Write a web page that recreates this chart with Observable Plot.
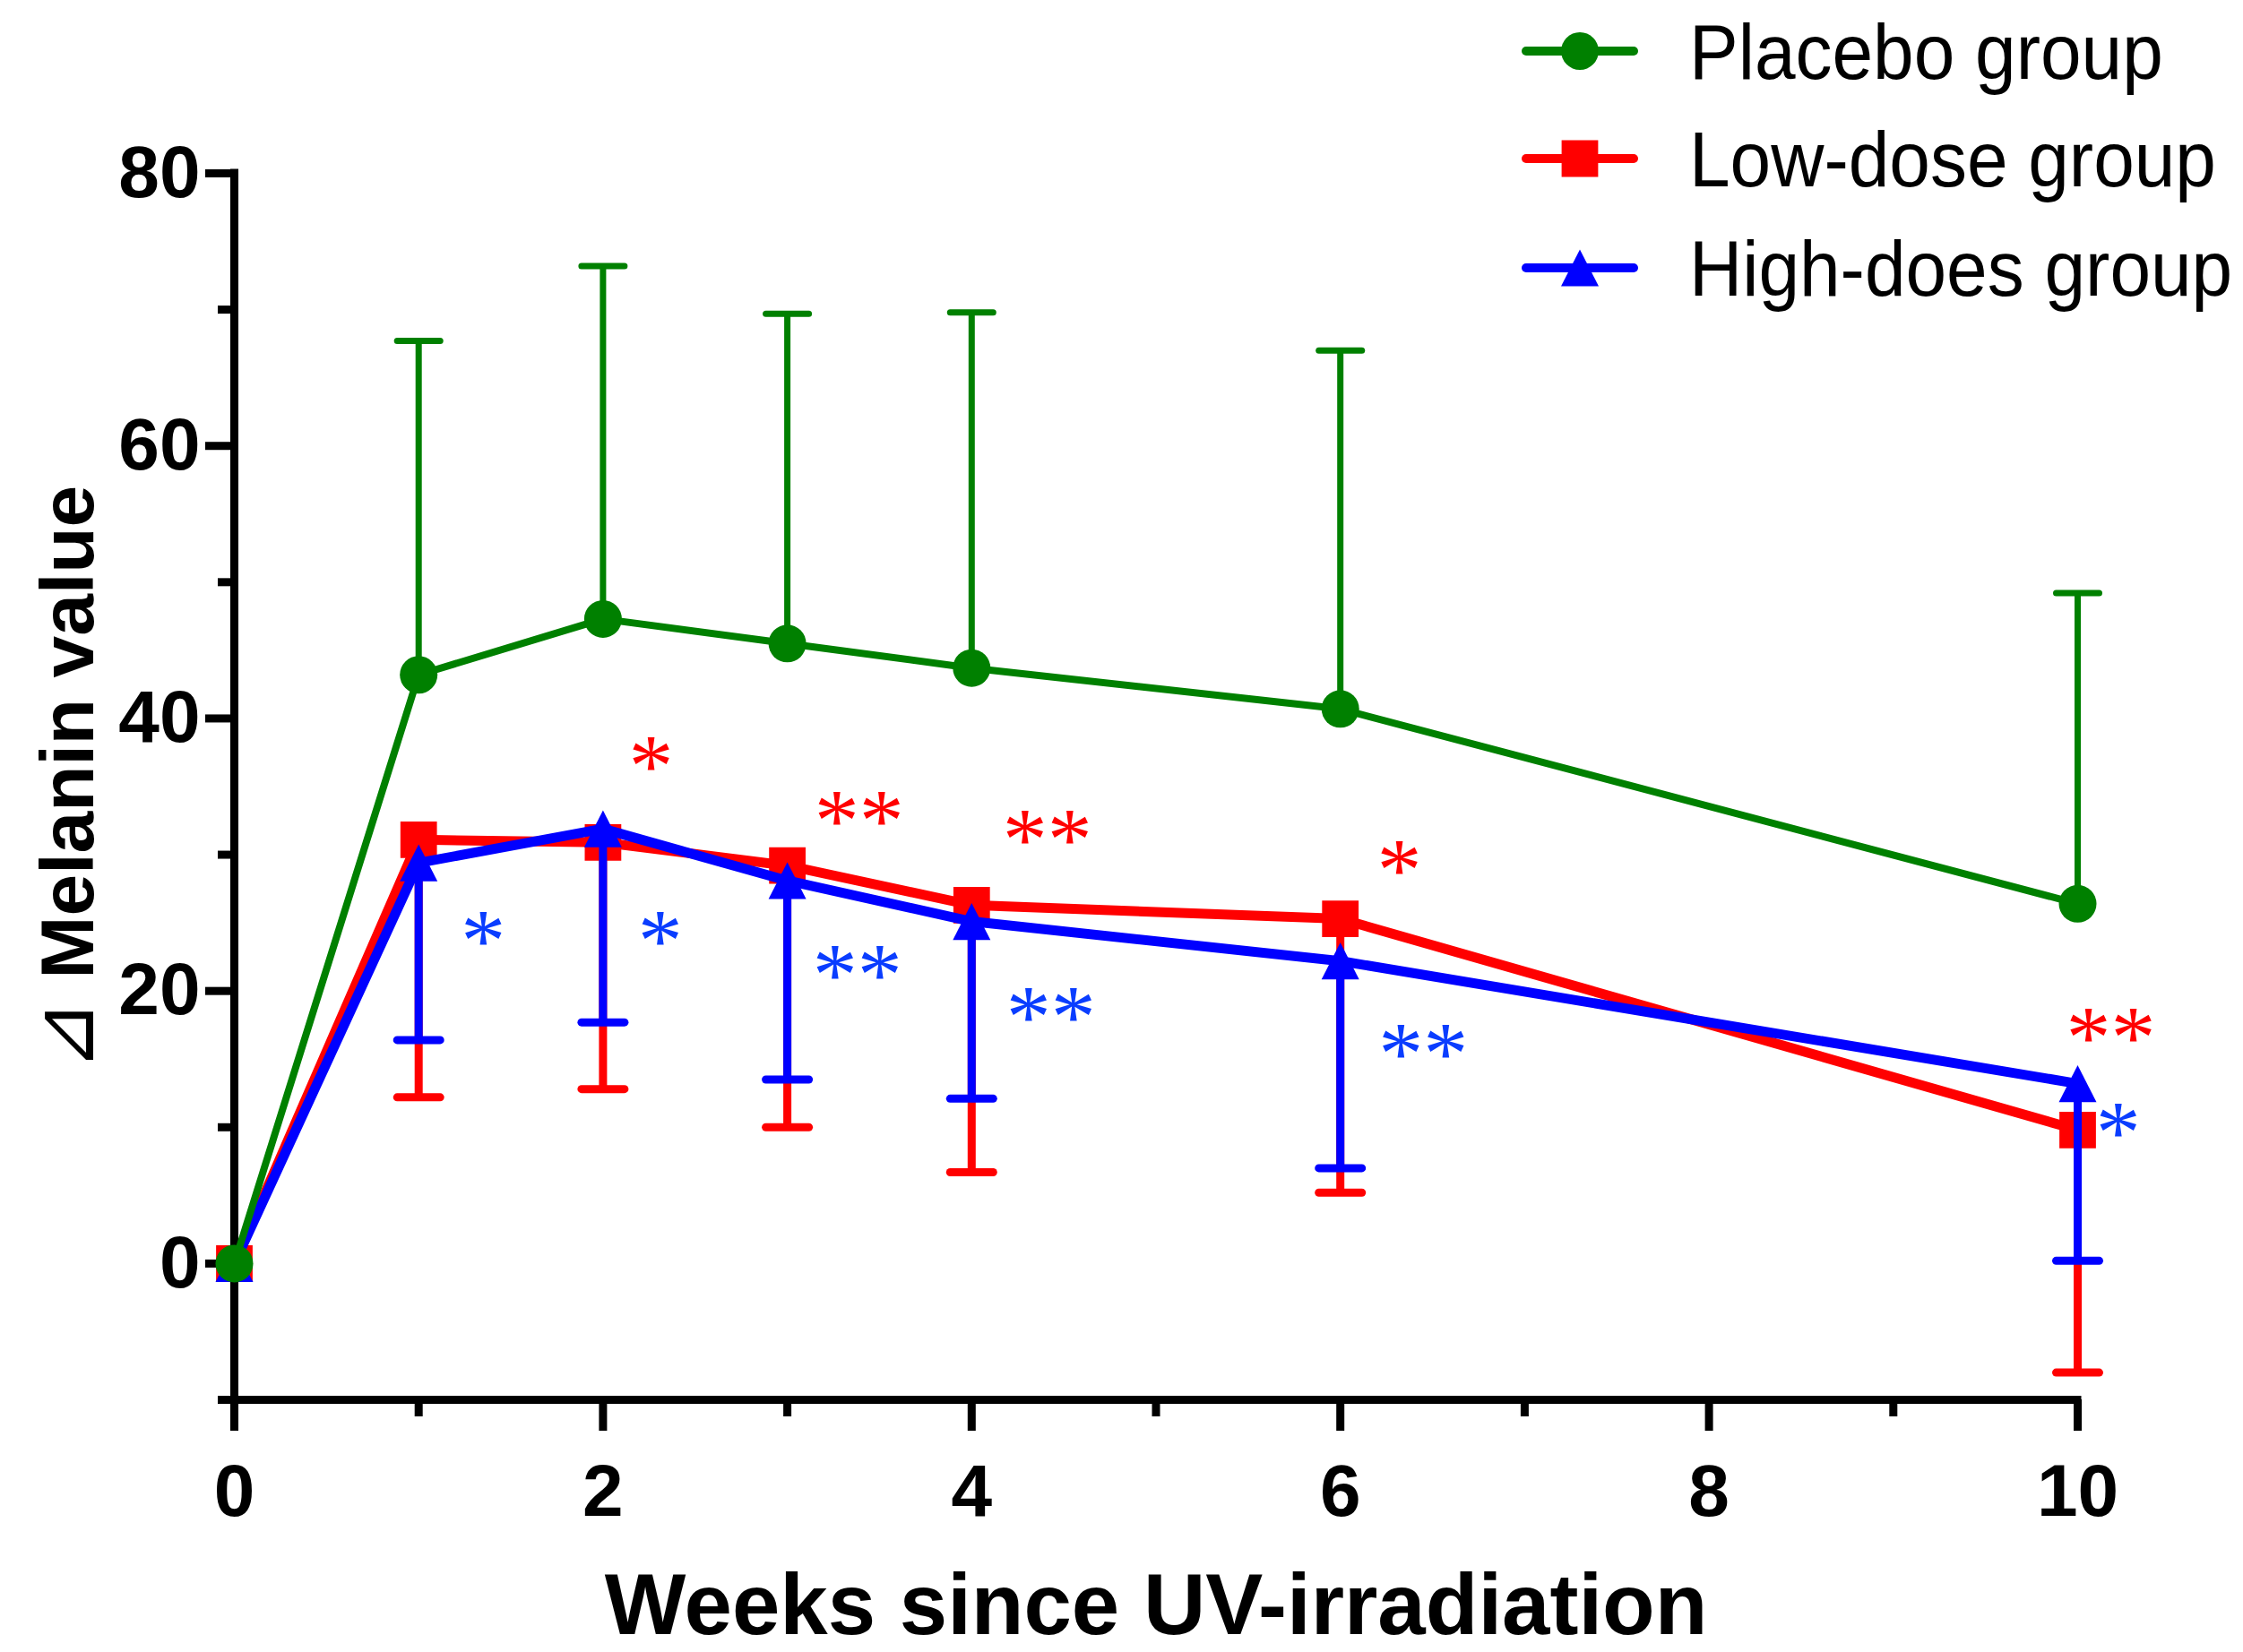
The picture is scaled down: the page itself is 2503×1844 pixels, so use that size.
<!DOCTYPE html>
<html><head><meta charset="utf-8">
<script src="https://cdn.jsdelivr.net/npm/d3@7"></script>
<script src="https://cdn.jsdelivr.net/npm/@observablehq/plot@0.6"></script>
<style>
html,body{margin:0;padding:0;background:#fff;}
#wrap{position:relative;width:2503px;height:1844px;overflow:hidden;background:#fff;}
#legend{position:absolute;left:0;top:0;}
</style></head><body>
<div id="wrap"><div id="chart"></div><svg id="legend" width="2503" height="360"></svg></div>
<script>
// ---- data ----
const weeks = [0, 1, 2, 3, 4, 6, 10];
const placeboMean  = [0, 43.2, 47.3, 45.5, 43.7, 40.7, 26.4];
const placeboUpper = [null, 67.7, 73.2, 69.7, 69.8, 67.0, 49.2];
const lowMean      = [0, 31.1, 30.9, 29.2, 26.3, 25.3, 9.8];
const lowLower     = [null, 12.2, 12.8, 10.0, 6.7, 5.2, -8.0];
const highMean     = [0, 29.4, 31.9, 28.1, 25.1, 22.2, 13.2];
const highLower    = [null, 16.4, 17.7, 13.5, 12.1, 7.0, 0.2];

const sigLowX    = [2.26, 3.39, 4.41, 6.32, 10.18];
const sigLowY    = [37.3, 33.3, 31.9, 29.7, 17.4];
const sigLowText = ["*", "**", "**", "*", "**"];
const sigHighX    = [1.35, 2.31, 3.38, 4.43, 6.45, 10.22];
const sigHighY    = [24.5, 24.5, 22.0, 18.9, 16.2, 10.4];
const sigHighText = ["*", "*", "**", "**", "**", "*"];

const xMajor = [0, 2, 4, 6, 8, 10];
const xMinor = [1, 3, 5, 7, 9];
const yMajor = [0, 20, 40, 60, 80];
const yMinor = [-10, 10, 30, 50, 70];
const xDomain = [0, 10];
const yDomain = [-10, 80];

const seriesNames = ["Placebo group", "Low-dose group", "High-does group"];
const colors = {green: "#008000", red: "#ff0000", blue: "#0000ff", sigRed: "#ff0000", sigBlue: "#0a3dff"};

// ---- tables ----
const rows = (mean, err) => weeks.map((w, i) => ({week: w, mean: mean[i], err: err[i]}));
const placebo = rows(placeboMean, placeboUpper);
const low = rows(lowMean, lowLower);
const high = rows(highMean, highLower);
const sigLow = sigLowX.map((x, i) => ({x, y: sigLowY[i], t: sigLowText[i]}));
const sigHigh = sigHighX.map((x, i) => ({x, y: sigHighY[i], t: sigHighText[i]}));

// custom symbols: error-bar cap and a near-square triangle
const capSymbol = {draw(ctx, size) { const r = Math.sqrt(size / Math.PI); ctx.moveTo(-r, 0); ctx.lineTo(r, 0); }};
const triSymbol = {draw(ctx, size) { const r = Math.sqrt(size / Math.PI); const h = r * 0.98; ctx.moveTo(0, -h); ctx.lineTo(r, h); ctx.lineTo(-r, h); ctx.closePath(); }};

function seriesMarks(data, color, symbol, r, lineW, barW) {
  const withErr = data.filter(d => d.err != null);
  return [
    Plot.ruleX(withErr, {x: "week", y1: "mean", y2: "err", stroke: color, strokeWidth: barW}),
    Plot.dot(withErr, {x: "week", y: "err", symbol: capSymbol, r: 24, stroke: color, fill: "none", strokeWidth: barW, strokeLinecap: "round"}),
    Plot.line(data, {x: "week", y: "mean", stroke: color, strokeWidth: lineW, strokeLinejoin: "round"}),
    Plot.dot(data, {x: "week", y: "mean", symbol, r, fill: color, stroke: "none"})
  ];
}

const font = "Liberation Sans, Arial, Helvetica, sans-serif";
const sigFont = "Liberation Serif, Times New Roman, serif";

const chart = Plot.plot({
  width: 2503, height: 1844,
  marginLeft: 261, marginRight: 185, marginTop: 193, marginBottom: 282,
  style: {fontFamily: font, background: "#fff", overflow: "visible", color: "#000"},
  x: {domain: xDomain},
  y: {domain: yDomain},
  marks: [
    // axes
    Plot.axisY({ticks: yMinor, tickSize: 18, strokeWidth: 9, text: null, label: null}),
    Plot.axisY({ticks: yMajor, tickSize: 32, tickPadding: 6, strokeWidth: 9, fontSize: 82, fontWeight: "bold", label: null, tickFormat: d => String(d)}),
    Plot.axisX({ticks: xMinor, tickSize: 19, strokeWidth: 9, text: null, label: null}),
    Plot.axisX({ticks: xMajor, tickSize: 35, tickPadding: 36, strokeWidth: 9, fontSize: 82, fontWeight: "bold", label: null, tickFormat: d => String(d)}),
    Plot.ruleX([xDomain[0]], {y1: yDomain[0], y2: yDomain[1], strokeWidth: 9, strokeLinecap: "square"}),
    Plot.ruleY([yDomain[0]], {x1: xDomain[0], x2: xDomain[1], strokeWidth: 9, strokeLinecap: "square"}),
    // titles
    Plot.text(["Weeks since UV-irradiation"], {frameAnchor: "bottom", dy: 231, fontSize: 96, fontWeight: "bold", lineAnchor: "middle", fill: "#000"}),
    Plot.text(["\u22BF Melanin value"], {frameAnchor: "left", textAnchor: "middle", rotate: -90, dx: -184, dy: -9, fontSize: 84, fontWeight: "bold", lineAnchor: "middle", fill: "#000", className: "ytitle"}),
    // series (red, blue, then green on top)
    ...seriesMarks(low, colors.red, "square", 23, 11, 9),
    ...seriesMarks(high, colors.blue, triSymbol, 21, 11, 9),
    ...seriesMarks(placebo, colors.green, "circle", 21, 8, 7),
    // significance marks
    Plot.text(sigLow, {x: "x", y: "y", text: "t", fill: colors.sigRed, fontSize: 100, fontFamily: sigFont, lineAnchor: "middle", dy: 13}),
    Plot.text(sigHigh, {x: "x", y: "y", text: "t", fill: colors.sigBlue, fontSize: 100, fontFamily: sigFont, lineAnchor: "middle", dy: 13})
  ]
});
document.getElementById("chart").appendChild(chart);

// y title: thin outline right-triangle glyph
d3.select(chart).selectAll(".ytitle text").each(function () {
  const t = d3.select(this);
  t.text(null);
  t.append("tspan").attr("font-family", "DejaVu Sans").attr("font-weight", "normal").attr("font-size", 96).text("\u22BF");
  t.append("tspan").text(" Melanin value");
});

// ---- legend ----
const lg = d3.select("#legend");
const legendColors = [colors.green, colors.red, colors.blue];
const legendSymbols = [d3.symbolCircle, d3.symbolSquare, triSymbol];
const legendSizes = [Math.PI * 21 * 21, Math.PI * 23 * 23, Math.PI * 21 * 21];
const rowY = [57, 177, 299];
seriesNames.forEach((name, i) => {
  const g = lg.append("g").attr("transform", `translate(0,${rowY[i]})`);
  g.append("line").attr("x1", 1703).attr("x2", 1823).attr("y1", 0).attr("y2", 0)
    .attr("stroke", legendColors[i]).attr("stroke-width", 10).attr("stroke-linecap", "round");
  g.append("path").attr("transform", "translate(1763,0)").attr("d", d3.symbol(legendSymbols[i], legendSizes[i])())
    .attr("fill", legendColors[i]);
  g.append("text").attr("transform", "translate(1885,31) scale(1,1.07)").attr("font-family", font).attr("font-size", 82)
    .attr("fill", "#000").text(name);
});
</script>
</body></html>
